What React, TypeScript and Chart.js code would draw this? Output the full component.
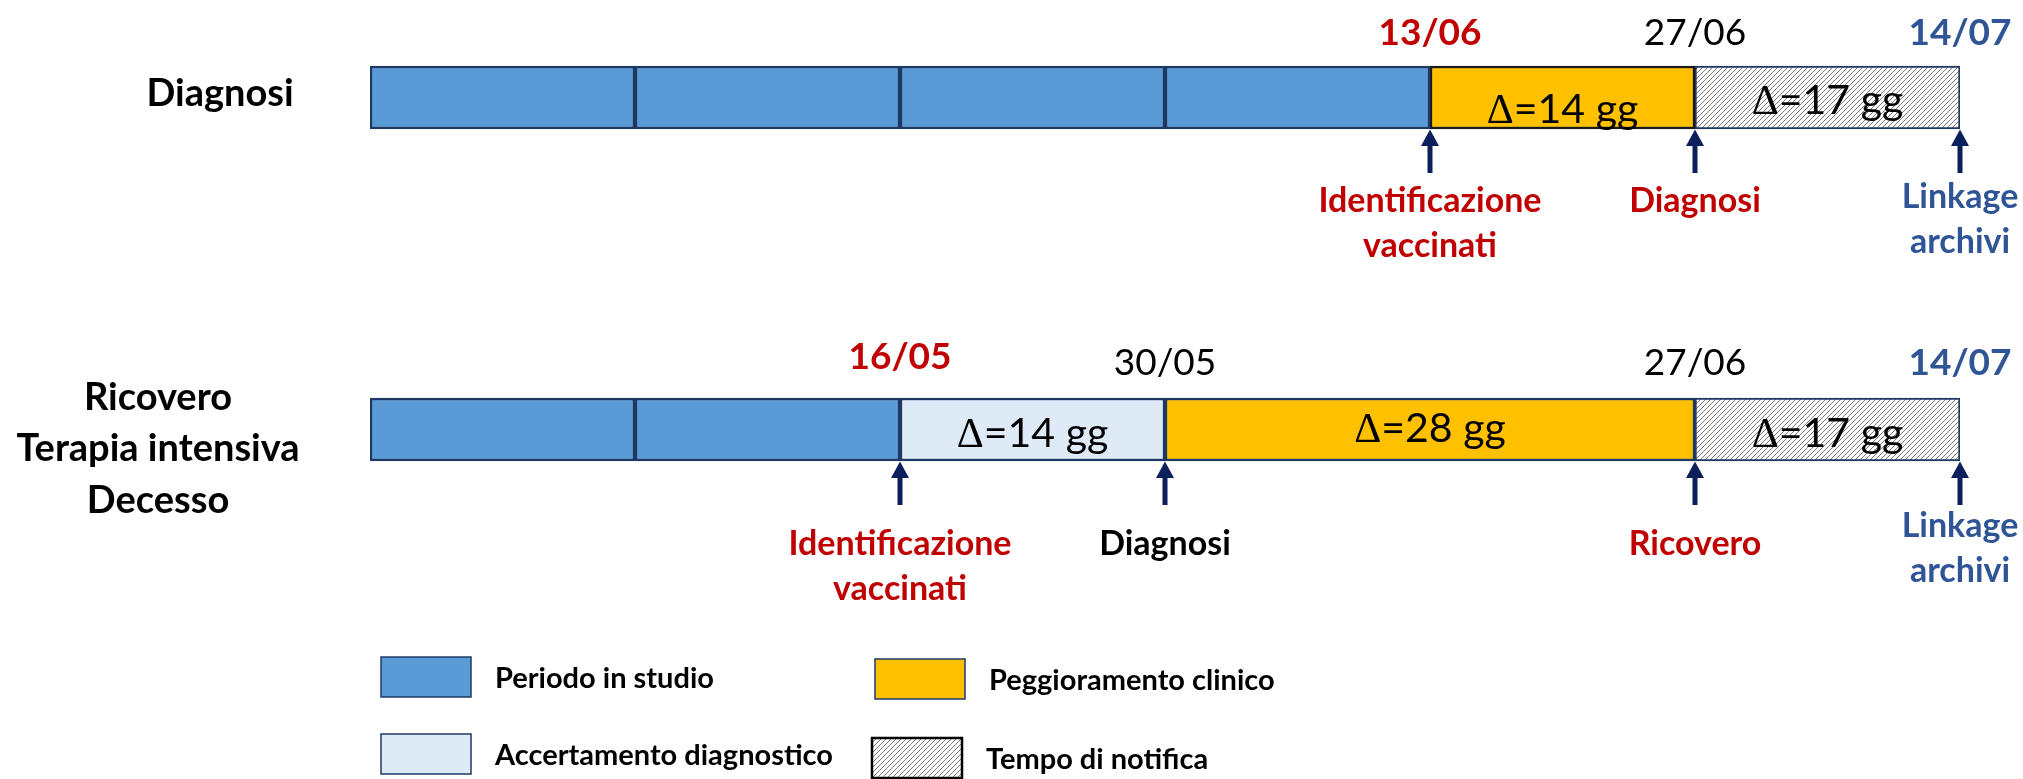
import { useEffect, useRef } from 'react';
import { Chart, registerables } from 'chart.js';

Chart.register(...registerables);

// ---------- data ----------
const rowLabels = [['Diagnosi'], ['Ricovero', 'Terapia intensiva', 'Decesso']];

// segments along the timeline: [start, end] (one unit = one block of the timeline)
const studioDiagnosi = [[0, 1], [1, 2], [2, 3], [3, 4]];
const studioRicovero = [[0, 1], [1, 2]];
const accertamentoRicovero = [[2, 3]];
const peggioramentoDiagnosi = [[4, 5]];
const peggioramentoRicovero = [[3, 5]];
const notificaDiagnosi = [[5, 6]];
const notificaRicovero = [[5, 6]];

const deltaDiagnosi = [
  { from: 4, to: 5, days: 14 },
  { from: 5, to: 6, days: 17 },
];
const deltaRicovero = [
  { from: 2, to: 3, days: 14 },
  { from: 3, to: 5, days: 28 },
  { from: 5, to: 6, days: 17 },
];

const eventsDiagnosi = [
  { at: 4, date: '13/06', kind: 'id', label: ['Identificazione', 'vaccinati'] },
  { at: 5, date: '27/06', kind: 'outcome', label: ['Diagnosi'] },
  { at: 6, date: '14/07', kind: 'link', label: ['Linkage', 'archivi'] },
];
const eventsRicovero = [
  { at: 2, date: '16/05', kind: 'id', label: ['Identificazione', 'vaccinati'] },
  { at: 3, date: '30/05', kind: 'step', label: ['Diagnosi'] },
  { at: 5, date: '27/06', kind: 'outcome', label: ['Ricovero'] },
  { at: 6, date: '14/07', kind: 'link', label: ['Linkage', 'archivi'] },
];

const legendLabels = ['Periodo in studio', 'Accertamento diagnostico', 'Peggioramento clinico', 'Tempo di notifica'];

// ---------- styles ----------
const RED = '#C00000';
const BLUE = '#2F5597';
const NAVY = '#1F3864';
const ARROW = '#0B1F5C';
const FONT = 'Lato, "Open Sans", sans-serif';

const kindStyle: Record<string, { dateColor: string; dateWeight: string; labelColor: string }> = {
  id: { dateColor: RED, dateWeight: 'bold', labelColor: RED },
  outcome: { dateColor: '#000', dateWeight: 'normal', labelColor: RED },
  step: { dateColor: '#000', dateWeight: 'normal', labelColor: '#000' },
  link: { dateColor: BLUE, dateWeight: 'bold', labelColor: BLUE },
};

function makeHatch(): CanvasPattern | string {
  const s = 5;
  const c = document.createElement('canvas');
  c.width = s;
  c.height = s;
  const g = c.getContext('2d');
  if (!g) return '#eee';
  g.fillStyle = '#ffffff';
  g.fillRect(0, 0, s, s);
  g.strokeStyle = '#7a7a7a';
  g.lineWidth = 1;
  g.beginPath();
  g.moveTo(0, s);
  g.lineTo(s, 0);
  g.moveTo(-1, 1);
  g.lineTo(1, -1);
  g.moveTo(s - 1, s + 1);
  g.lineTo(s + 1, s - 1);
  g.stroke();
  return g.createPattern(c, 'repeat') || '#eee';
}

const toBars = (segs: number[][], row: number) => segs.map((s) => ({ x: s, y: row }));

export default function App() {
  const ref = useRef<HTMLCanvasElement | null>(null);

  useEffect(() => {
    const canvas = ref.current;
    if (!canvas) return;
    const hatch = makeHatch();

    const colors = {
      studio: '#5B9BD5',
      accertamento: '#DEEBF7',
      peggioramento: '#FFC000',
      notifica: hatch,
    };

    const overlay = {
      id: 'overlay',
      afterDatasetsDraw(chart: any) {
        const ctx: CanvasRenderingContext2D = chart.ctx;
        const xs = chart.scales.x;
        const ys = chart.scales.y;
        const half = 31.5;
        ctx.save();

        // row labels
        ctx.fillStyle = '#000';
        ctx.font = `bold 38px ${FONT}`;
        ctx.textAlign = 'center';
        ctx.textBaseline = 'alphabetic';
        ctx.fillText(rowLabels[0][0], 220, ys.getPixelForValue(0) + 8);
        const r1 = ys.getPixelForValue(1);
        rowLabels[1].forEach((t, i) => {
          ctx.fillText(t, 158, r1 - 20 + i * 51.5);
        });

        // delta texts
        const drawDelta = (d: { from: number; to: number; days: number }, row: number, dy: number) => {
          const cx = (xs.getPixelForValue(d.from) + xs.getPixelForValue(d.to)) / 2;
          const base = ys.getPixelForValue(row) + dy + 15;
          const rest = `=${d.days} gg`;
          ctx.font = `42px "Liberation Serif", serif`;
          const wD = ctx.measureText('Δ').width;
          ctx.font = `41px ${FONT}`;
          const wR = ctx.measureText(rest).width;
          const left = cx - (wD + wR) / 2;
          ctx.fillStyle = '#000';
          ctx.textAlign = 'left';
          ctx.font = `42px "Liberation Serif", serif`;
          ctx.fillText('Δ', left, base);
          ctx.font = `41px ${FONT}`;
          ctx.fillText(rest, left + wD, base);
        };
        deltaDiagnosi.forEach((d, i) => drawDelta(d, 0, i === 0 ? 10 : 1.5));
        deltaRicovero.forEach((d, i) => drawDelta(d, 1, i === 1 ? -2.5 : 2.5));

        // events: dates above, arrows and labels below
        const drawEvents = (evs: typeof eventsDiagnosi, row: number) => {
          const cy = ys.getPixelForValue(row);
          const top = cy - half;
          const bottom = cy + half;
          evs.forEach((ev) => {
            const st = kindStyle[ev.kind];
            const x = xs.getPixelForValue(ev.at);
            // date
            ctx.textAlign = 'center';
            ctx.fillStyle = st.dateColor;
            ctx.font = `${st.dateWeight} 37px ${FONT}`;
            const dateLift = row === 0 ? 21.5 : ev.kind === 'id' ? 29.5 : 23.5;
            ctx.fillText(ev.date, x, top - dateLift);
            // arrow
            ctx.fillStyle = ARROW;
            ctx.fillRect(x - 2.5, bottom + 14, 5, 30);
            ctx.beginPath();
            ctx.moveTo(x, bottom + 0.5);
            ctx.lineTo(x + 9, bottom + 17);
            ctx.lineTo(x - 9, bottom + 17);
            ctx.closePath();
            ctx.fill();
            // label
            ctx.fillStyle = st.labelColor;
            ctx.font = `bold 34px ${FONT}`;
            let base = row === 0 ? bottom + 83 : bottom + 94;
            if (ev.kind === 'link') base = row === 0 ? bottom + 79 : bottom + 76;
            ev.label.forEach((t, i) => ctx.fillText(t, x, base + i * 45));
          });
        };
        drawEvents(eventsDiagnosi, 0);
        drawEvents(eventsRicovero, 1);

        // legend (2 x 2)
        const fills = [colors.studio, colors.accertamento, colors.peggioramento, colors.notifica];
        const slots = [
          { x: 381, y: 657, border: NAVY },
          { x: 381, y: 734, border: NAVY },
          { x: 875, y: 659, border: NAVY },
          { x: 872, y: 738, border: '#000' },
        ];
        legendLabels.forEach((lab, i) => {
          const s = slots[i];
          ctx.fillStyle = fills[i] as any;
          ctx.fillRect(s.x, s.y, 90, 40);
          ctx.strokeStyle = s.border;
          ctx.lineWidth = i === 3 ? 2.5 : 1.5;
          ctx.strokeRect(s.x, s.y, 90, 40);
          ctx.fillStyle = '#000';
          ctx.font = `bold 29px ${FONT}`;
          ctx.textAlign = 'left';
          ctx.fillText(lab, s.x + 114, s.y + 31);
        });

        ctx.restore();
      },
    };

    const common = {
      borderColor: NAVY,
      borderWidth: 2.5,
      borderSkipped: false,
      barThickness: 63,
      grouped: false,
    };

    const chart = new Chart(canvas, {
      type: 'bar',
      data: {
        datasets: [
          {
            ...common,
            label: legendLabels[0],
            data: [...toBars(studioDiagnosi, 0), ...toBars(studioRicovero, 1)],
            backgroundColor: colors.studio,
          },
          {
            ...common,
            label: legendLabels[1],
            data: toBars(accertamentoRicovero, 1),
            backgroundColor: colors.accertamento,
          },
          {
            ...common,
            label: legendLabels[2],
            data: [...toBars(peggioramentoDiagnosi, 0), ...toBars(peggioramentoRicovero, 1)],
            backgroundColor: colors.peggioramento,
            borderColor: ['#1a1a1a', NAVY],
          },
          {
            ...common,
            label: legendLabels[3],
            data: [...toBars(notificaDiagnosi, 0), ...toBars(notificaRicovero, 1)],
            backgroundColor: colors.notifica,
            borderWidth: 2,
          },
        ] as any,
      },
      options: {
        indexAxis: 'y',
        animation: false,
        responsive: false,
        devicePixelRatio: 1,
        layout: { padding: { left: 370, right: 63, top: 14.5, bottom: 17.5 } },
        scales: {
          x: { type: 'linear', min: 0, max: 6, display: false, offset: false },
          y: { type: 'linear', min: -0.25, max: 2, reverse: true, display: false, offset: false },
        },
        plugins: {
          legend: { display: false },
          tooltip: { enabled: false },
        },
      } as any,
      plugins: [overlay],
    });
    return () => chart.destroy();
  }, []);

  return (
    <div style={{ position: 'absolute', left: 0, top: 0, width: 2023, height: 779, background: '#fff' }}>
      <canvas ref={ref} width={2023} height={779} style={{ display: 'block' }} />
    </div>
  );
}
